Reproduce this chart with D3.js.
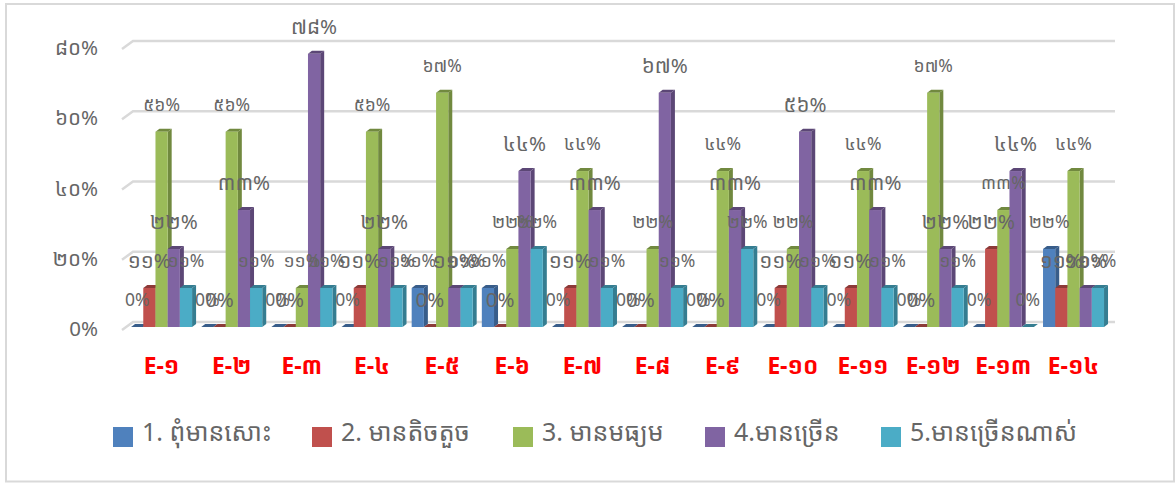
<!DOCTYPE html>
<html>
<head>
<meta charset="utf-8">
<script src="https://cdn.jsdelivr.net/npm/d3@7/dist/d3.min.js"></script>
<style>
  html, body { margin: 0; padding: 0; background: #fff; }
  text { font-family: "Noto Sans Khmer", "Khmer OS", "Noto Sans", "DejaVu Sans", sans-serif; }
</style>
</head>
<body>
<div id="chart"></div>
<script>
// --- Data (labels show these rounded) ---
var categories = ['E-១', 'E-២', 'E-៣', 'E-៤', 'E-៥', 'E-៦', 'E-៧', 'E-៨', 'E-៩', 'E-១០', 'E-១១', 'E-១២', 'E-១៣', 'E-១៤'];
var seriesNames = ['1. ពុំមានសោះ', '2. មានតិចតួច', '3. មានមធ្យម', '4.មានច្រើន', '5.មានច្រើនណាស់'];
var none =     [0, 0, 0, 0, 11.1, 11.1, 0, 0, 0, 0, 0, 0, 0, 22.2];
var little =   [11.1, 0, 0, 11.1, 0, 0, 11.1, 0, 0, 11.1, 11.1, 0, 22.2, 11.1];
var medium =   [55.6, 55.6, 11.1, 55.6, 66.7, 22.2, 44.4, 22.2, 44.4, 22.2, 44.4, 66.7, 33.3, 44.4];
var much =     [22.2, 33.3, 77.8, 22.2, 11.1, 44.4, 33.3, 66.7, 33.3, 55.6, 33.3, 22.2, 44.4, 11.1];
var veryMuch = [11.1, 11.1, 11.1, 11.1, 11.1, 22.2, 11.1, 11.1, 22.2, 11.1, 11.1, 11.1, 0, 11.1];
var seriesValues = [none, little, medium, much, veryMuch];
var yTicks = [0, 20, 40, 60, 80];

// --- Office theme colours: front, darker side ---
var front = ['#4F81BD', '#C0504D', '#9BBB59', '#8064A2', '#4BACC6'];
var side =  ['#385D8A', '#8C3A38', '#71893F', '#5C4776', '#357D91'];
var labelSize = [17.5, 20.5, 17.5, 20.5, 17.5];

var khmerDigits = '០១២៣៤៥៦៧៨៩';
function khmer(n) {
  if (n === 0) return '0';
  return String(Math.round(n)).replace(/\d/g, function (d) { return khmerDigits[d]; });
}

var width = 1176, height = 483;
var depthX = 4, depthY = 3;

var svg = d3.select('#chart').append('svg')
  .attr('width', width)
  .attr('height', height)
  .style('display', 'block');

// outer frame
svg.append('rect')
  .attr('x', 6).attr('y', 4)
  .attr('width', 1168).attr('height', 477.5)
  .attr('fill', '#fff')
  .attr('stroke', '#D9D9D9')
  .attr('stroke-width', 2);

// --- Scales ---
var x0 = d3.scaleBand().domain(categories).range([126.5, 1108.6]);
var x1 = d3.scaleBand().domain(d3.range(5)).range([0, x0.bandwidth()]).paddingOuter(0.375);
var y = d3.scaleLinear().domain([0, 80]).range([327, 46]);
var yBack = d3.scaleLinear().domain([0, 80]).range([322, 41]);

// --- Gridlines with the slanted stub on the side wall ---
var grid = svg.append('g').attr('fill', 'none').attr('stroke', '#D9D9D9').attr('stroke-width', 2.5);
yTicks.forEach(function (t) {
  var by = yBack(t);
  grid.append('path').attr('d', 'M122,' + (by + 8) + 'L133,' + by + 'L1115,' + by);
});

// y axis labels
svg.append('g').selectAll('text')
  .data(yTicks)
  .join('text')
  .attr('x', 98)
  .attr('y', function (d) { return y(d) + 2; })
  .attr('dy', '0.35em')
  .attr('text-anchor', 'end')
  .attr('font-size', 20.5)
  .attr('fill', '#666')
  .text(function (d) { return d === 0 ? '0%' : khmer(d).slice(0, 1) + '០%'; });

// --- Bars ---
var bars = svg.append('g');
categories.forEach(function (cat, c) {
  var g = bars.append('g');
  seriesValues.forEach(function (vals, s) {
    var bx = x0(cat) + x1(s), w = x1.bandwidth();
    var top = y(vals[c]), base = y(0);
    // side face
    g.append('path')
      .attr('d', 'M' + (bx + w) + ',' + top + 'l' + depthX + ',' + (-depthY) +
        'L' + (bx + w + depthX) + ',' + (base - depthY) + 'L' + (bx + w) + ',' + base + 'Z')
      .attr('fill', side[s]);
    // top face
    g.append('path')
      .attr('d', 'M' + bx + ',' + top + 'l' + depthX + ',' + (-depthY) + 'h' + w + 'l' + (-depthX) + ',' + depthY + 'Z')
      .attr('fill', side[s]);
    // front face
    g.append('rect')
      .attr('x', bx).attr('y', top)
      .attr('width', w).attr('height', base - top)
      .attr('fill', front[s]);
  });
});

// --- Data labels, drawn over every bar ---
var labels = svg.append('g').attr('fill', '#666').attr('text-anchor', 'middle');
categories.forEach(function (cat, c) {
  seriesValues.forEach(function (vals, s) {
    labels.append('text')
      .attr('x', x0(cat) + x1(s) + x1.bandwidth() / 2)
      .attr('y', y(vals[c]) - 27)
      .attr('dy', '0.35em')
      .attr('font-size', labelSize[s])
      .text(khmer(vals[c]) + '%');
  });
});

// category labels
svg.append('g').selectAll('text')
  .data(categories)
  .join('text')
  .attr('x', function (d) { return x0(d) + x0.bandwidth() / 2; })
  .attr('y', 366)
  .attr('dy', '0.35em')
  .attr('text-anchor', 'middle')
  .attr('font-size', 23)
  .attr('font-weight', 'bold')
  .attr('fill', '#FF0000')
  .text(function (d) { return d; });

// --- Legend ---
var legendX = d3.scaleOrdinal().domain(d3.range(5)).range([113, 312, 513, 705, 881]);
var legend = svg.append('g').selectAll('g')
  .data(seriesNames)
  .join('g')
  .attr('transform', function (d, i) { return 'translate(' + legendX(i) + ',427)'; });
legend.append('rect')
  .attr('width', 20).attr('height', 20)
  .attr('fill', function (d, i) { return front[i]; });
legend.append('text')
  .attr('x', 29).attr('y', 14)
  .attr('font-size', 25)
  .attr('fill', '#666')
  .text(function (d) { return d; });
</script>
</body>
</html>
